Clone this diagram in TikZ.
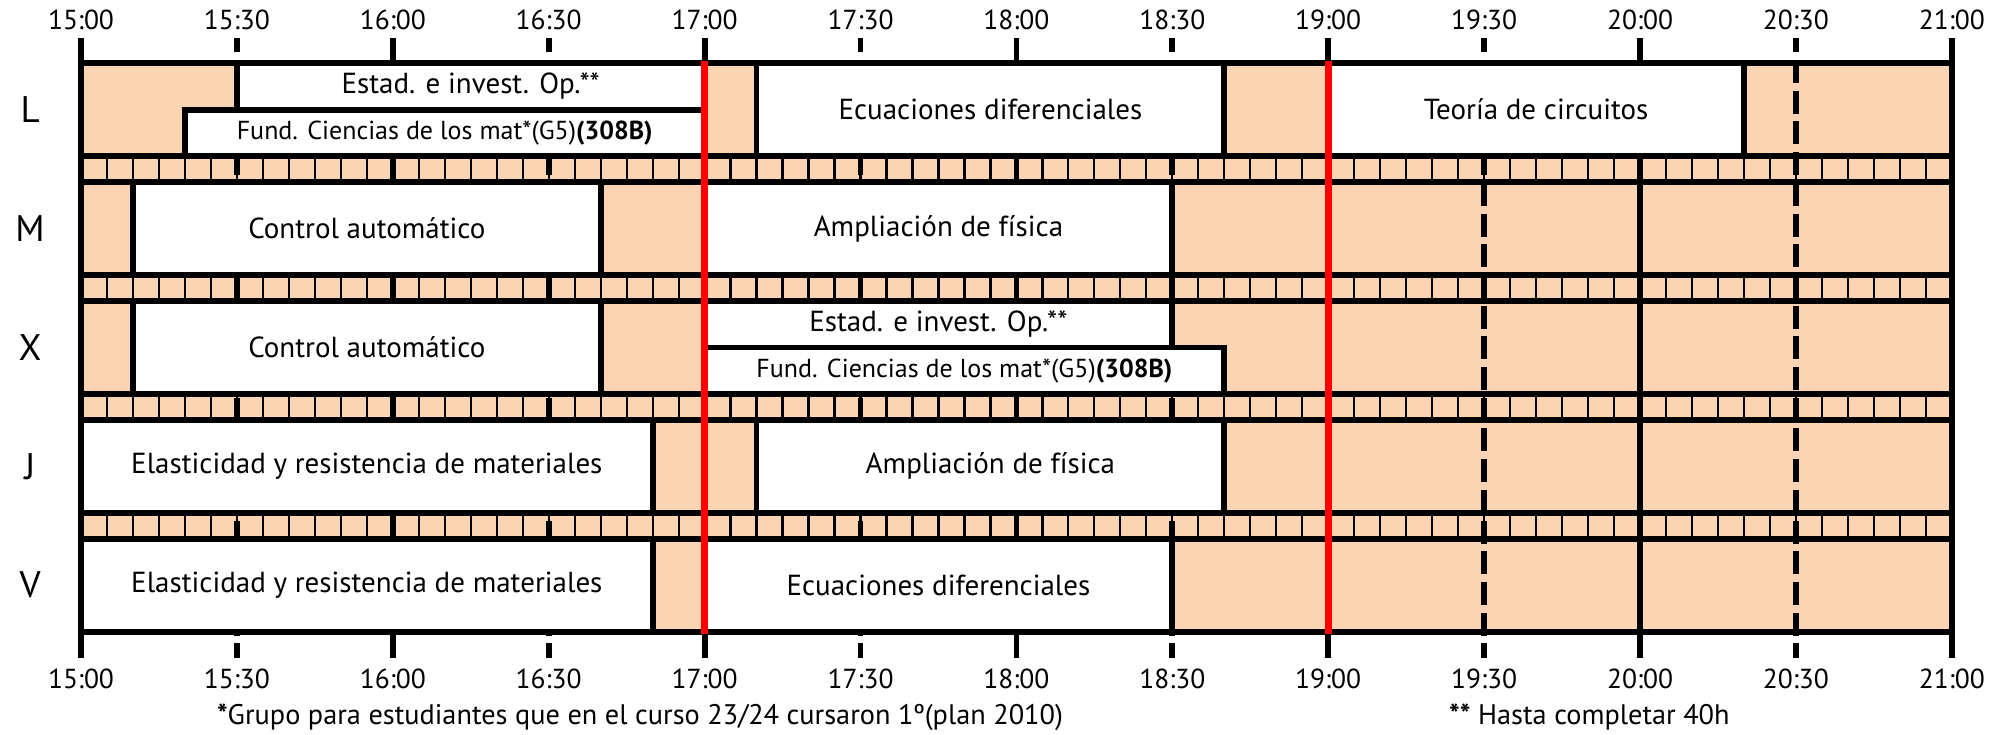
\documentclass[tikz,border=0pt]{standalone}
\usepackage{fontspec}
\setmainfont{PT Sans}
\definecolor{hueco}{RGB}{251,212,180}
\tikzset{
  raya/.style={line width=5.8pt},
  celda/.style={line width=2.2pt},
  media/.style={line width=5.8pt, dash pattern=on 23pt off 7.7pt, dash phase=8.7pt},
  clase/.style={draw, line width=5.8pt, fill=white},
  roja/.style={red, line width=6.7pt},
  txt/.style={font=\fontsize{29}{32}\selectfont},
  txtfund/.style={font=\fontsize{26}{29}\selectfont},
  nota/.style={font=\fontsize{28.3}{31}\selectfont, anchor=base west},
  dia/.style={font=\fontsize{37}{40}\selectfont},
  hora/.style={font=\fontsize{27.5}{30}\selectfont, anchor=base},
}
\begin{document}
\begin{tikzpicture}[x=5.1967pt, y=-1pt, xshift=81pt]
            \useasboundingbox (-81pt,0pt) rectangle (1927pt,-734pt);
            \fill[hueco] (0,63.3) rectangle (360,631.6);
            % franjas entre dias
            \foreach \y in {156,274.9,393.8,512.7}
              \foreach \m in {5,10,...,355}
                \draw[celda] (\m,\y) -- (\m,\y+26.2);
            % horas y medias horas
            \foreach \m in {0,60,...,360} \draw[raya] (\m,38) -- (\m,658);
            \foreach \m in {30,90,...,330} \draw[media] (\m,38) -- (\m,658);
            \foreach \y in {63.3,156,182.2,274.9,301.1,393.8,420,512.7,538.9,631.6}
              \draw[raya] (0,\y) -- (360,\y);
            % L
            \draw[clase] (30,63.3) rectangle (120,109.6);
            \node[txt] (estadL) at (75,86.5) {Estad. e invest. Op.**};
            \draw[clase] (20,109.6) rectangle (120,156);
            \node[txtfund] (fundL) at (70,132.8) {Fund. Ciencias de los mat*(G5)\textbf{(308B)}};
            \draw[clase] (130,63.3) rectangle (220,156);
            \node[txt] (ecuaL) at (175,109.6) {Ecuaciones diferenciales};
            \draw[clase] (240,63.3) rectangle (320,156);
            \node[txt] (teoL) at (280,109.6) {Teoría de circuitos};
            % M
            \draw[clase] (10,182.2) rectangle (100,274.9);
            \node[txt] (contM) at (55,228.5) {Control automático};
            \draw[clase] (120,182.2) rectangle (210,274.9);
            \node[txt] (ampM) at (165,228.5) {Ampliación de física};
            % X
            \draw[clase] (10,301.1) rectangle (100,393.8);
            \node[txt] (contX) at (55,347.4) {Control automático};
            \draw[clase] (120,301.1) rectangle (210,347.4);
            \node[txt] (estadX) at (165,324.3) {Estad. e invest. Op.**};
            \draw[clase] (120,347.4) rectangle (220,393.8);
            \node[txtfund] (fundX) at (170,370.6) {Fund. Ciencias de los mat*(G5)\textbf{(308B)}};
            % J
            \draw[clase] (0,420) rectangle (110,512.7);
            \node[txt] (elasJ) at (55,466.3) {Elasticidad y resistencia de materiales};
            \draw[clase] (130,420) rectangle (220,512.7);
            \node[txt] (ampJ) at (175,466.3) {Ampliación de física};
            % V
            \draw[clase] (0,538.9) rectangle (110,631.6);
            \node[txt] (elasV) at (55,585.2) {Elasticidad y resistencia de materiales};
            \draw[clase] (120,538.9) rectangle (210,631.6);
            \node[txt] (ecuaV) at (165,585.2) {Ecuaciones diferenciales};
            % 17:00 y 19:00
            \draw[roja] (120,60.5) -- (120,634.4);
            \draw[roja] (240,60.5) -- (240,634.4);
            % dias
            \node[dia] (lunes) at (-9.8,109.6) {L};
            \node[dia] (martes) at (-9.8,228.5) {M};
            \node[dia] (miercoles) at (-9.8,347.4) {X};
            \node[dia] (jueves) at (-9.8,466.3) {J};
            \node[dia] (viernes) at (-9.8,585.2) {V};
            \foreach \m/\h in {0/15:00,30/15:30,60/16:00,90/16:30,120/17:00,150/17:30,180/18:00,
                210/18:30,240/19:00,270/19:30,300/20:00,330/20:30,360/21:00} {
              \node[hora] (arriba\m) at (\m,29.3) {\h};
              \node[hora] (abajo\m) at (\m,688.3) {\h};
            }
            \node[nota] (nota1) at (25.5,724) {\textbf{*}Grupo para estudiantes que en el curso 23/24 cursaron 1º(plan 2010)};
            \node[nota] (nota2) at (262.6,724) {\textbf{**} Hasta completar 40h};
        \end{tikzpicture}
\end{document}
